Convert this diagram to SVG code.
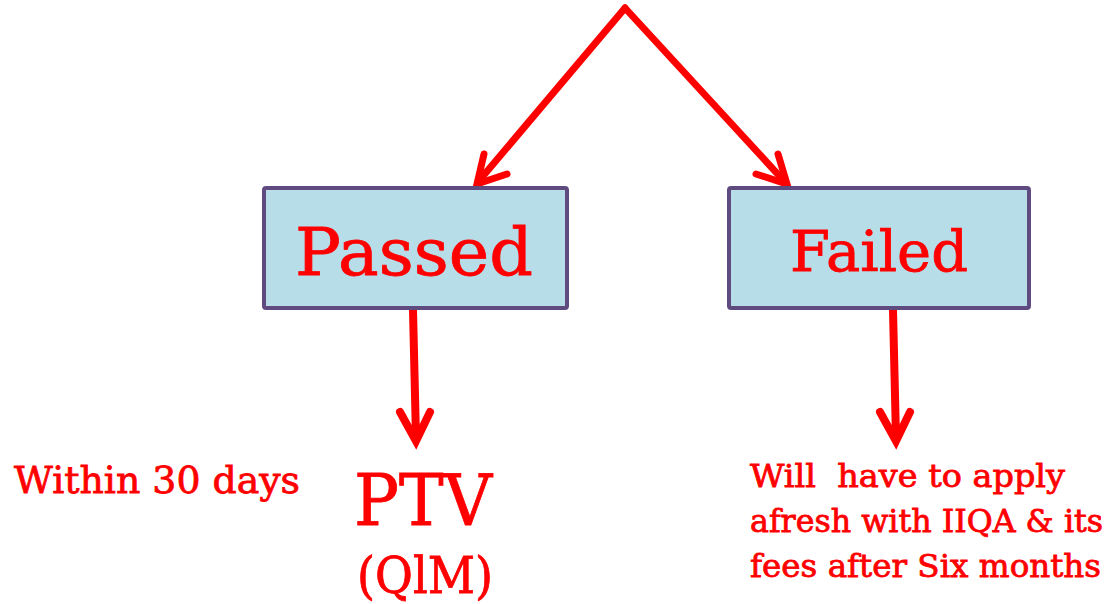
<svg xmlns="http://www.w3.org/2000/svg" width="1109" height="604" viewBox="0 0 1109 604">
<style>
.box{fill:#b7dde8;stroke:#5f4b7f;stroke-width:4;}
.conn{fill:none;stroke:#ff0000;stroke-width:7;stroke-linecap:round;stroke-linejoin:miter;}
.down{stroke-width:8;}
.t{font-family:"DejaVu Serif","Liberation Serif",serif;fill:#ff0000;stroke:#ff0000;stroke-width:0.8;}
</style>
<rect width="1109" height="604" fill="#ffffff"/>
<g id="connectors">
<path class="conn" d="M625,8 L478,182"/>
<path class="conn" d="M484,154 L477,184 L507,174"/>
<path class="conn" d="M625,8 L785,182"/>
<path class="conn" d="M778,154 L787,184 L756,174"/>
<path class="conn down" d="M413,310 L416,438"/>
<path class="conn down" d="M400,412 L416,441 L430,412"/>
<path class="conn down" d="M893,310 L896,438"/>
<path class="conn down" d="M880,412 L896,441 L910,412"/>
</g>
<g id="passed">
<rect class="box" x="264" y="188" width="303" height="120" rx="2"/>
<text class="t" x="295" y="275" font-size="66" textLength="238" lengthAdjust="spacingAndGlyphs">Passed</text>
</g>
<g id="failed">
<rect class="box" x="729" y="188" width="300" height="120" rx="2"/>
<text class="t" x="790" y="271" font-size="56" textLength="178" lengthAdjust="spacingAndGlyphs">Failed</text>
</g>
<g id="within">
<text class="t" x="14" y="493" font-size="38" textLength="286" lengthAdjust="spacingAndGlyphs">Within 30 days</text>
</g>
<g id="ptv">
<text class="t" x="354" y="525" font-size="71" textLength="138" lengthAdjust="spacingAndGlyphs">PTV</text>
<text class="t" x="357" y="593" font-size="50" textLength="136" lengthAdjust="spacingAndGlyphs">(QlM)</text>
</g>
<g id="failnote">
<text class="t" x="750" y="487" font-size="31" textLength="315" lengthAdjust="spacingAndGlyphs" style="white-space:pre" xml:space="preserve">Will  have to apply</text>
<text class="t" x="750" y="532" font-size="31" textLength="353" lengthAdjust="spacingAndGlyphs">afresh with IIQA &amp; its</text>
<text class="t" x="750" y="577" font-size="31" textLength="351" lengthAdjust="spacingAndGlyphs">fees after Six months</text>
</g>
</svg>
